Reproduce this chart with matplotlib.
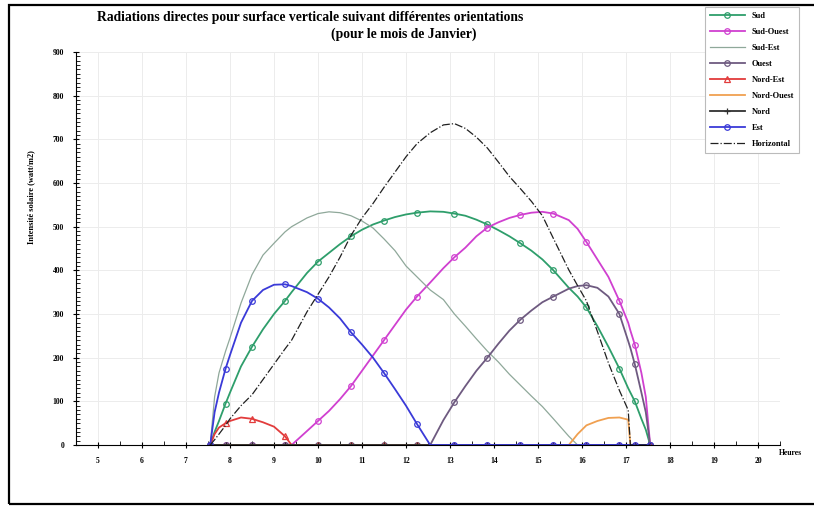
import matplotlib

matplotlib.use("Agg")
import matplotlib.pyplot as plt
from matplotlib.patches import Rectangle
from matplotlib.ticker import MultipleLocator

# heures (temps solaire), grille commune a toutes les orientations
hours = [7.55, 7.65, 7.75, 7.9, 8.0, 8.25, 8.5, 8.75, 9.0, 9.25, 9.4, 9.75,
         10.0, 10.25, 10.5, 10.75, 11.0, 11.25, 11.5, 11.75, 12.0, 12.25,
         12.55, 12.85, 13.1, 13.35, 13.6, 13.85, 14.1, 14.35, 14.6, 14.85,
         15.1, 15.35, 15.7, 15.9, 16.1, 16.35, 16.6, 16.85, 17.05, 17.1,
         17.2, 17.35, 17.45, 17.55]

sud = [0, 30, 55, 95, 120, 180, 225, 265, 300, 330, 350, 394,
       420, 440, 460, 478, 493, 505, 514, 522, 528, 532,
       535, 534, 530, 525, 516, 505, 492, 478, 462, 445,
       425, 400, 360, 340, 315, 272, 225, 175, 130, 120,
       100, 60, 35, 0]
sud_ouest = [0, 0, 0, 0, 0, 0, 0, 0, 0, 0, 0, 32,
             55, 78, 105, 135, 170, 205, 240, 275, 310, 340,
             372, 405, 430, 452, 478, 498, 510, 520, 527, 532,
             534, 530, 515, 495, 465, 425, 385, 330, 280, 262,
             230, 165, 110, 0]
sud_est = [0, 110, 165, 215, 245, 325, 390, 435, 462, 488, 500, 520,
           530, 534, 532, 525, 513, 497, 472, 445, 410, 385,
           355, 333, 300, 272, 243, 215, 190, 162, 137, 112,
           88, 60, 20, 0, 0, 0, 0, 0, 0, 0,
           0, 0, 0, 0]
ouest = [0, 0, 0, 0, 0, 0, 0, 0, 0, 0, 0, 0,
         0, 0, 0, 0, 0, 0, 0, 0, 0, 0,
         0, 57, 98, 135, 170, 200, 232, 262, 287, 308,
         327, 340, 358, 364, 366, 360, 340, 300, 238, 222,
         185, 120, 75, 0]
nord_est = [0, 25, 40, 50, 55, 63, 60, 52, 42, 20, 0, 0,
            0, 0, 0, 0, 0, 0, 0, 0, 0, 0,
            0, 0, 0, 0, 0, 0, 0, 0, 0, 0,
            0, 0, 0, 0, 0, 0, 0, 0, 0, 0,
            0, 0, 0, 0]
nord_ouest = [0, 0, 0, 0, 0, 0, 0, 0, 0, 0, 0, 0,
              0, 0, 0, 0, 0, 0, 0, 0, 0, 0,
              0, 0, 0, 0, 0, 0, 0, 0, 0, 0,
              0, 0, 0, 25, 45, 55, 62, 63, 58, 0,
              0, 0, 0, 0]
nord = [0] * len(hours)
est = [0, 75, 120, 175, 206, 280, 330, 355, 367, 368, 364, 350,
       335, 315, 290, 258, 230, 200, 165, 128, 90, 48,
       0, 0, 0, 0, 0, 0, 0, 0, 0, 0,
       0, 0, 0, 0, 0, 0, 0, 0, 0, 0,
       0, 0, 0, 0]
horizontal = [0, 12, 25, 45, 60, 90, 115, 150, 185, 220, 240, 305,
              345, 385, 430, 480, 520, 553, 590, 625, 660, 690,
              715, 733, 736, 725, 705, 680, 648, 615, 587, 558,
              525, 473, 401, 365, 330, 260, 188, 125, 80, 0,
              0, 0, 0, 0]

series = [
    ("Sud", sud, "#2e9e6b", "-", "o"),
    ("Sud-Ouest", sud_ouest, "#d040d0", "-", "o"),
    ("Sud-Est", sud_est, "#8fa89a", "-", ""),
    ("Ouest", ouest, "#6e5a80", "-", "o"),
    ("Nord-Est", nord_est, "#e23c3c", "-", "^"),
    ("Nord-Ouest", nord_ouest, "#f0a050", "-", ""),
    ("Nord", nord, "#303030", "-", "+"),
    ("Est", est, "#3a3ad8", "-", "o"),
    ("Horizontal", horizontal, "#202020", "-.", ""),
]

serif = {"family": "Liberation Serif", "weight": "bold"}

fig = plt.figure(figsize=(8.14, 5.08), dpi=100)
ax = fig.add_axes([76 / 814, 63 / 508, 704 / 814, 393 / 508])

for name, vals, color, ls, mk in series:
    lw = 0.9 if name in ("Sud-Est", "Horizontal") else 1.3
    ax.plot(hours, vals, color=color, ls=ls, lw=lw, marker=mk or None,
            markersize=4, markerfacecolor="none", markeredgewidth=0.9,
            markevery=3, label=name)

ax.set_xlim(4.5, 20.5)
ax.set_ylim(0, 900)
ax.xaxis.set_minor_locator(MultipleLocator(0.5))
ax.yaxis.set_major_locator(MultipleLocator(100))
ax.yaxis.set_minor_locator(MultipleLocator(10))
ax.set_xticks(range(5, 21))
ax.tick_params(axis="both", which="major", direction="inout", length=5, width=0.8,
               labelsize=5.5, pad=6)
ax.tick_params(axis="both", which="minor", direction="in", length=3, width=0.6)
for lab in ax.get_xticklabels() + ax.get_yticklabels():
    lab.set_fontfamily("Liberation Serif")
    lab.set_fontweight("bold")
for side in ("top", "right"):
    ax.spines[side].set_visible(False)
ax.grid(True, which="major", color="#ececec", lw=0.7)
ax.set_axisbelow(True)

ax.set_ylabel("Intensité solaire (watt/m2)", fontsize=6, **serif)
ax.yaxis.set_label_coords(-0.058, 0.63)
fig.text(790 / 814, 1 - 453 / 508, "Heures", fontsize=5.5, ha="center", va="center", **serif)

fig.text(310 / 814, 1 - 18 / 508,
         "Radiations directes pour surface verticale suivant différentes orientations",
         fontsize=9.8, ha="center", va="center", **serif)
fig.text(404 / 814, 1 - 34 / 508, "(pour le mois de Janvier)",
         fontsize=9.8, ha="center", va="center", **serif)

leg = fig.legend(loc="upper right", bbox_to_anchor=(803 / 814, 1 - 3 / 508),
                 prop={"family": "Liberation Serif", "weight": "bold", "size": 6},
                 handlelength=4.2, labelspacing=0.95, fancybox=False, numpoints=1,
                 borderpad=0.6, framealpha=1)
leg.get_frame().set_edgecolor("#bbbbbb")
leg.get_frame().set_linewidth(0.8)

fig.patches.append(Rectangle((9 / 814, 4 / 508), 1.0, 499 / 508, transform=fig.transFigure,
                             fill=False, lw=1.6, edgecolor="black"))

fig.savefig("out.png", dpi=100)
